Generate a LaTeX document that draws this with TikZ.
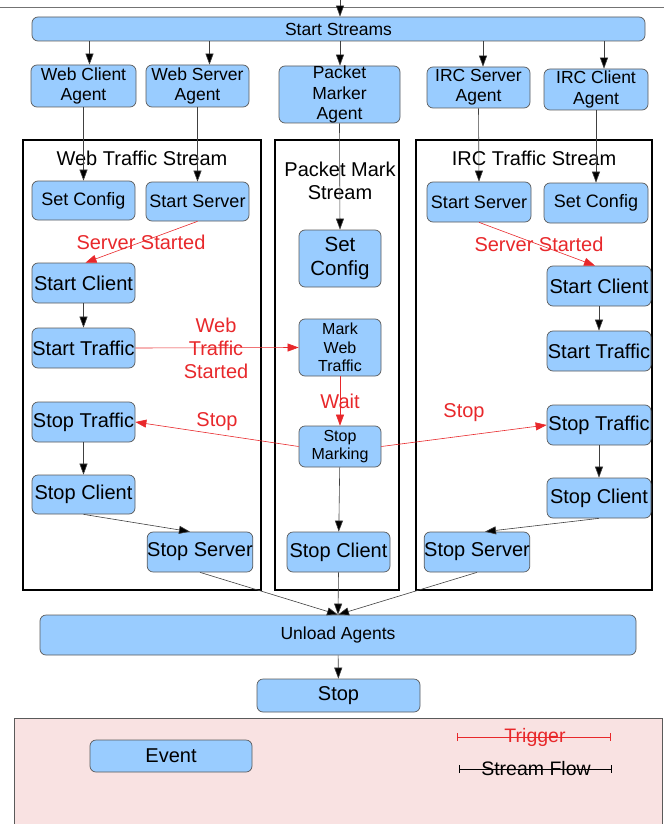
\documentclass[tikz,border=0pt]{standalone}
\usepackage{fontspec}
\setmainfont{Liberation Sans}
\usetikzlibrary{arrows.meta}
\definecolor{evtblue}{HTML}{99CCFF}
\definecolor{evtedge}{HTML}{5A5A5A}
\definecolor{trigred}{HTML}{E8282B}
\definecolor{legendpink}{HTML}{F9E2E2}
\newcommand{\fsz}[1]{\fontsize{#1}{\fpeval{#1*1.15}}\selectfont}
\tikzset{
  evt/.style={draw=evtedge, fill=evtblue, rounded corners=6pt, inner sep=0pt,
    align=center, line width=0.7pt},
  stream/.style={draw=black, line width=1.4pt},
  flow/.style={draw=black!75, line width=0.6pt,
    -{Triangle[length=11pt,width=8pt,fill=black]}},
  trig/.style={draw=trigred, line width=0.6pt,
    -{Triangle[length=11pt,width=8pt,fill=trigred]}},
  triglabel/.style={text=trigred, font=\fsz{20}, align=center, inner sep=0pt},
  title/.style={font=\fsz{20}, align=center, inner sep=0pt},
}
\begin{document}
\begin{tikzpicture}[x=1pt,y=-1pt]
\useasboundingbox (0,0) rectangle (664,824);

% legend panel
\fill[legendpink] (14,718) rectangle (662,826);
\draw[evtedge, line width=0.7pt] (14,826) -- (14,718) -- (662,718) -- (662,826);

% page rule along the top
\draw[black!55, line width=0.6pt] (0,7.5) -- (664,7.5);

% stream frames
\draw[stream] (23,140) rectangle (261,590);
\draw[stream] (275,140) rectangle (399,590);
\draw[stream] (416,140) rectangle (652,590);
\node[title] (twt) at (142,158) {Web Traffic Stream};
\node[title] (tpm) at (340,181) {Packet Mark\\Stream};
\node[title] (tirc) at (534,158) {IRC Traffic Stream};

% start and agents
\coordinate (entry) at (340,0);
\node[evt, minimum width=613pt, minimum height=24pt, font=\fsz{17.5}] (ss) at (338.5,29) {Start Streams};
\node[evt, minimum width=105pt, minimum height=42pt, font=\fsz{17.5}] (wca) at (83.5,86) {Web Client\\Agent};
\node[evt, minimum width=103pt, minimum height=42pt, font=\fsz{17.5}] (wsa) at (197.5,86) {Web Server\\Agent};
\node[evt, minimum width=121pt, minimum height=57pt, font=\fsz{17.5}] (pma) at (339.5,94.5) {Packet\\Marker\\Agent};
\node[evt, minimum width=103pt, minimum height=41pt, font=\fsz{17.5}] (isa) at (478.5,87.5) {IRC Server\\Agent};
\node[evt, minimum width=104pt, minimum height=41pt, font=\fsz{17.5}] (ica) at (596,89.5) {IRC Client\\Agent};

% web traffic stream
\node[evt, minimum width=103pt, minimum height=39pt, font=\fsz{18}] (wcfg) at (83.5,200.5) {Set Config};
\node[evt, minimum width=103pt, minimum height=39pt, font=\fsz{18}] (wsrv) at (197.5,201.5) {Start Server};
\node[evt, minimum width=103pt, minimum height=40pt, font=\fsz{20}] (wcli) at (83.5,283) {Start Client};
\node[evt, minimum width=103pt, minimum height=40pt, font=\fsz{20}] (wtra) at (83.5,348) {Start Traffic};
\node[evt, minimum width=103pt, minimum height=40pt, font=\fsz{20}] (wstt) at (83.5,422) {Stop Traffic};
\node[evt, minimum width=103pt, minimum height=39pt, font=\fsz{20}] (wstc) at (83.5,494.5) {Stop Client};
\node[evt, minimum width=104pt, minimum height=40pt, font=\fsz{20}] (wsts) at (200,552) {Stop Server};

% packet mark stream
\node[evt, minimum width=82pt, minimum height=57pt, font=\fsz{20.5}] (pcfg) at (340,258.5) {Set\\Config};
\node[evt, minimum width=82pt, minimum height=57pt, font=\fsz{16}] (pmwt) at (340,347.5) {Mark\\Web\\Traffic};
\node[evt, minimum width=82pt, minimum height=41pt, font=\fsz{16}] (psm) at (340,446.5) {Stop\\Marking};
\node[evt, minimum width=103pt, minimum height=40pt, font=\fsz{20}] (pstc) at (338.5,552) {Stop Client};

% irc traffic stream
\node[evt, minimum width=104pt, minimum height=40pt, font=\fsz{18}] (isrv) at (479,202) {Start Server};
\node[evt, minimum width=104pt, minimum height=40pt, font=\fsz{18}] (icfg) at (596,203) {Set Config};
\node[evt, minimum width=104pt, minimum height=40pt, font=\fsz{20}] (icli) at (599,286) {Start Client};
\node[evt, minimum width=104pt, minimum height=40pt, font=\fsz{20}] (itra) at (599,351) {Start Traffic};
\node[evt, minimum width=104pt, minimum height=40pt, font=\fsz{20}] (istt) at (599,425) {Stop Traffic};
\node[evt, minimum width=104pt, minimum height=40pt, font=\fsz{20}] (istc) at (599,498) {Stop Client};
\node[evt, minimum width=104pt, minimum height=40pt, font=\fsz{20}] (ists) at (477,552) {Stop Server};

% shutdown
\node[evt, minimum width=596pt, minimum height=40pt, font=\fsz{17.5}] (unl) at (338,635) {Unload Agents};
\node[evt, minimum width=163pt, minimum height=33pt, font=\fsz{20}] (stop) at (338.5,695.5) {Stop};

% legend entries
\node[evt, minimum width=162pt, minimum height=32pt, font=\fsz{20}] (lev) at (171,756) {Event};
\coordinate (trgA) at (457,737);
\coordinate (trgB) at (611,737);
\coordinate (sflA) at (459,769);
\coordinate (sflB) at (612,769);
\draw[trigred, line width=0.6pt, {Bar[width=8pt]}-{Bar[width=8pt]}] (trgA) -- (trgB);
\draw[black, line width=0.6pt, {Bar[width=8pt]}-{Bar[width=8pt]}] (sflA) -- (sflB);
\node[text=trigred, font=\fsz{19.5}, inner sep=0pt] (ltrg) at (535,737) {Trigger};
\node[font=\fsz{19.5}, inner sep=0pt] (lsfl) at (536,769) {Stream Flow};

% stream flow: startup
\draw[flow] (entry) -- (ss.north -| entry);
\draw[flow] ([xshift=6pt]ss.south -| wca.north) -- ([xshift=6pt]wca.north);
\draw[flow] ([xshift=12pt]ss.south -| wsa.north) -- ([xshift=12pt]wsa.north);
\draw[flow] ([xshift=0.5pt]ss.south -| pma.north) -- ([xshift=0.5pt]pma.north);
\draw[flow] ([xshift=4.5pt]ss.south -| isa.north) -- ([xshift=4.5pt]isa.north);
\draw[flow] ([xshift=8pt]ss.south -| ica.north) -- ([xshift=8pt]ica.north);
\draw[flow] (wca.south) -- (wcfg.north);
\draw[flow] (wsa.south) -- (wsrv.north);
\draw[flow] (pma.south) -- (pcfg.north);
\draw[flow] (isa.south) -- (isrv.north);
\draw[flow] (ica.south) -- (icfg.north);

% stream flow: inside the streams
\draw[flow] (wcli) -- (wtra);
\draw[flow] (wstt) -- (wstc);
\draw[flow] (wstc.south) -- ([xshift=-10pt]wsts.north);
\draw[flow] (icli) -- (itra);
\draw[flow] (istt) -- (istc);
\draw[flow] (istc.south) -- ([xshift=8pt]ists.north);
\draw[flow] (psm) -- (pstc);

% stream flow: shutdown
\draw[flow] (wsts.south) -- (unl.north);
\draw[flow] (pstc.south) -- (unl.north);
\draw[flow] (ists.south) -- (unl.north);
\draw[flow] (unl) -- (stop);

% triggers
\draw[trig] (wsrv.south) -- ([xshift=2pt]wcli.north);
\draw[trig] (isrv.south) -- ([xshift=-4pt]icli.north);
\draw[trig] (wtra.east) -- (pmwt.west);
\draw[trig] (pmwt) -- (psm);
\draw[trig] (psm.west) -- (wstt.east);
\draw[trig] (psm.east) -- (istt.west);

\node[triglabel] (lws) at (141,242) {Server Started};
\node[triglabel] (lis) at (539,244) {Server Started};
\node[triglabel] (lwt) at (216,348) {Web\\Traffic\\Started};
\node[triglabel] (lwait) at (340,401) {Wait};
\node[triglabel] (lsw) at (217,422) {Stop};
\node[triglabel] (lsi) at (464,413) {Stop};
\end{tikzpicture}
\end{document}
